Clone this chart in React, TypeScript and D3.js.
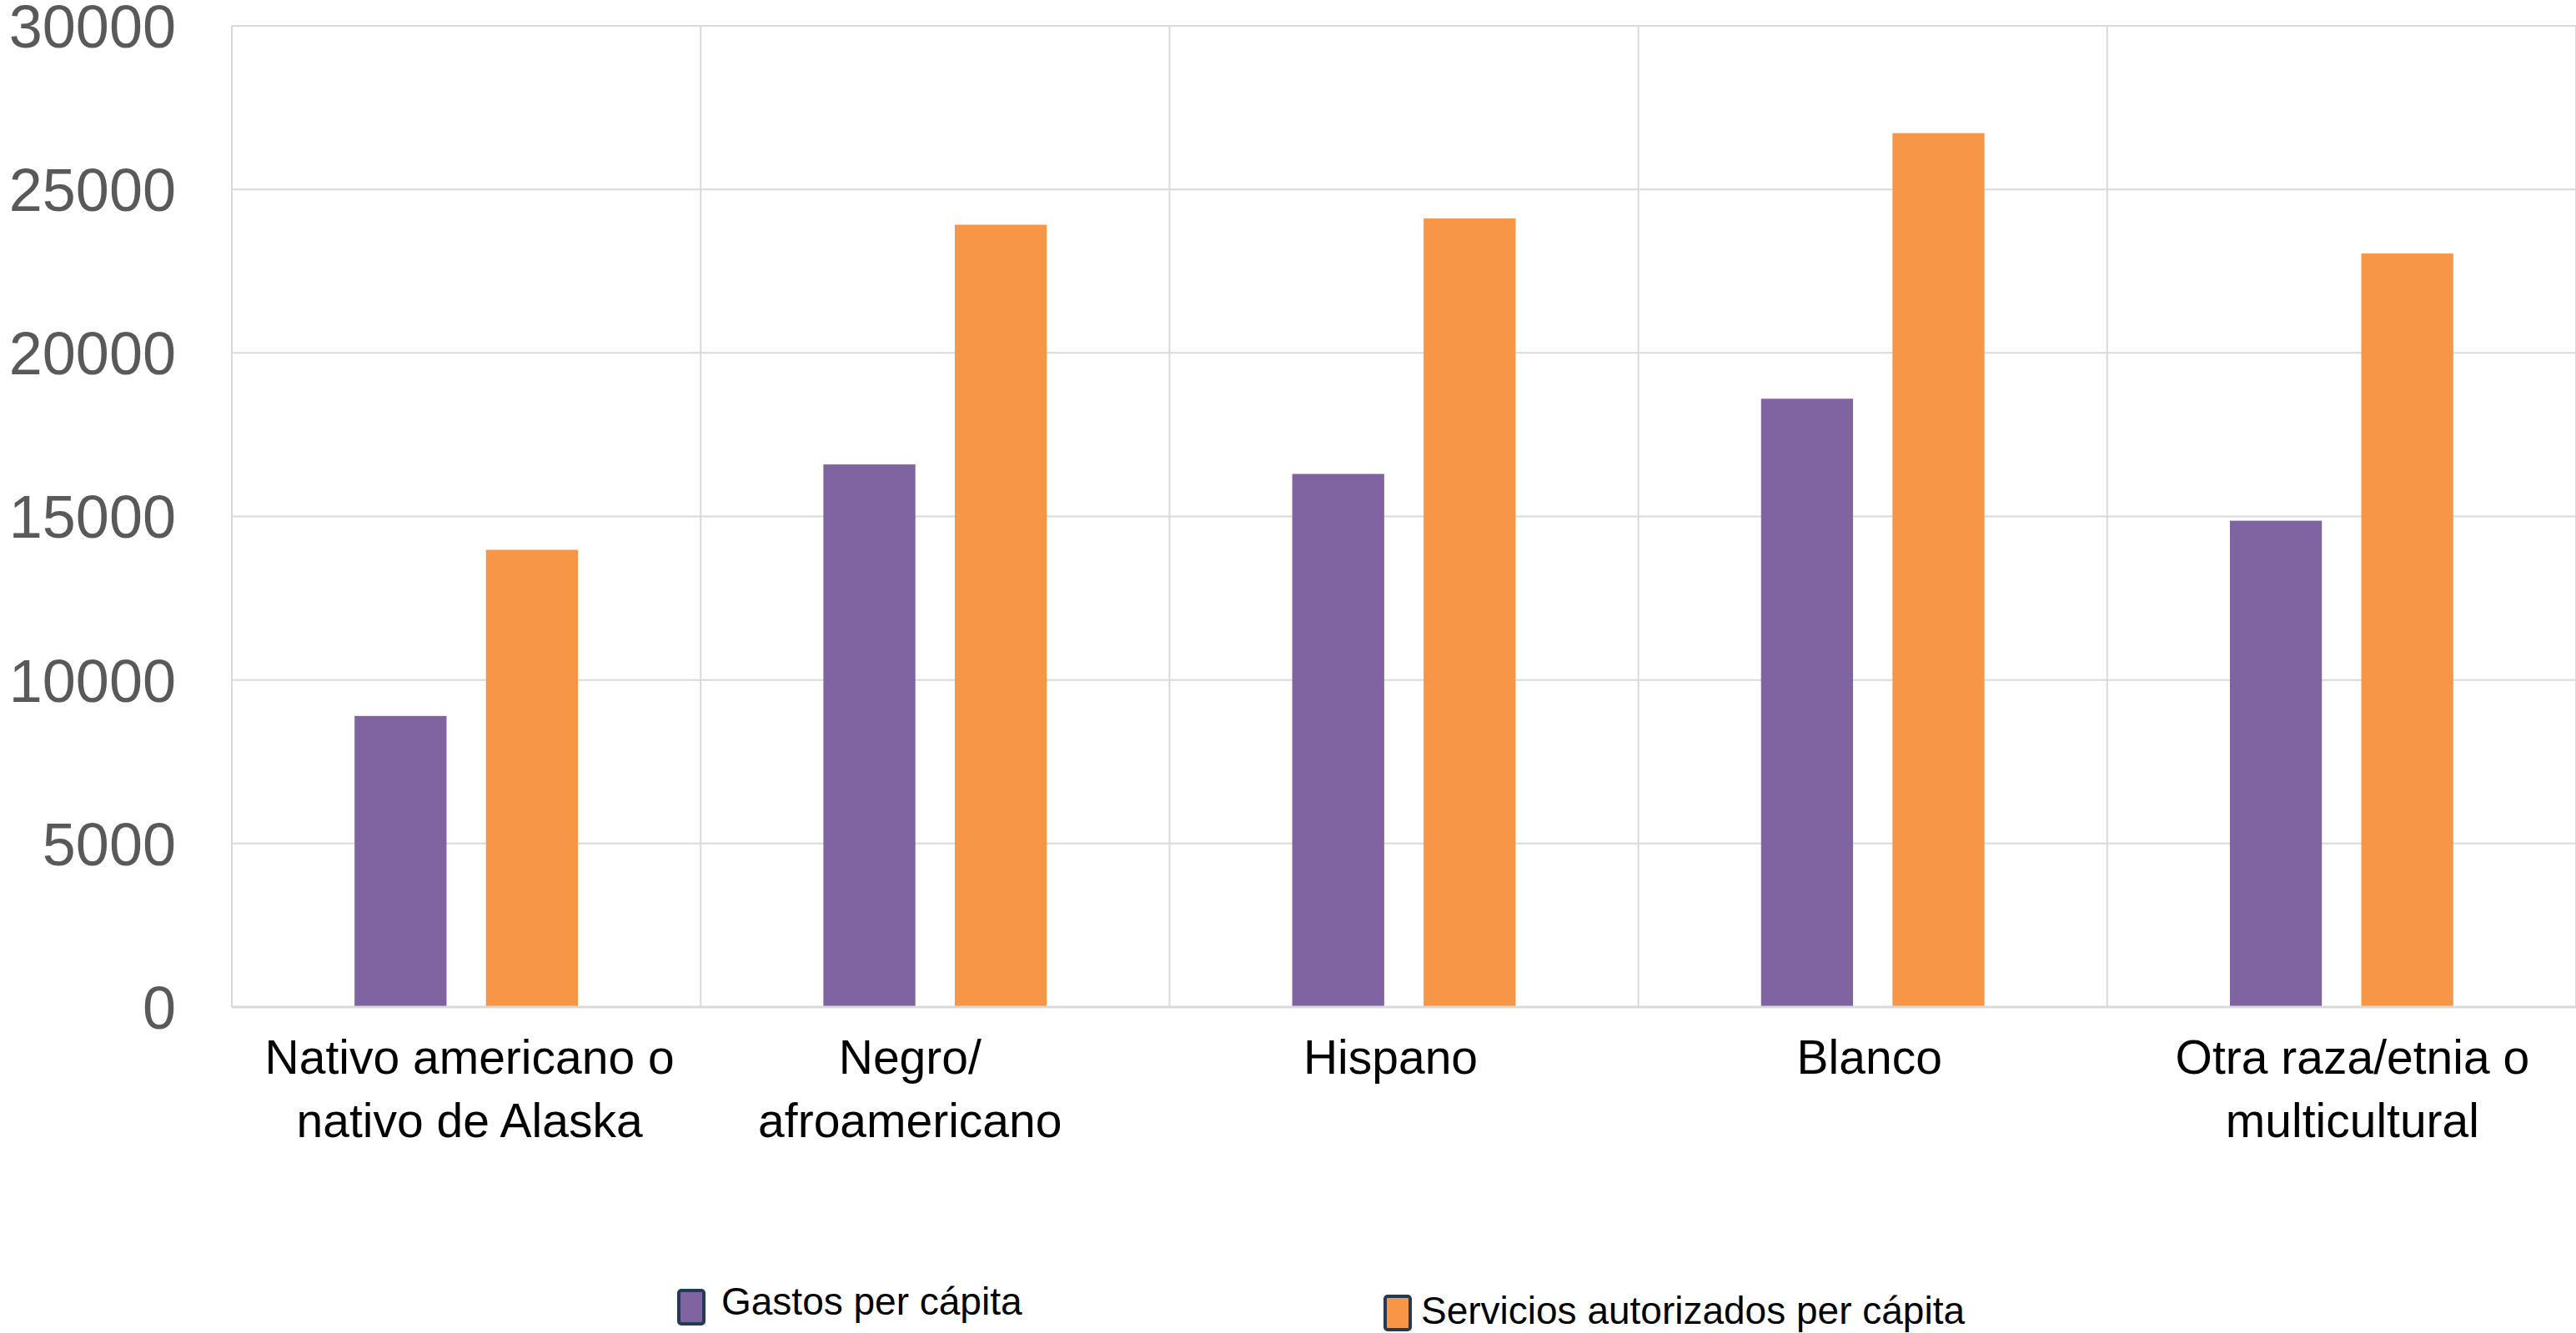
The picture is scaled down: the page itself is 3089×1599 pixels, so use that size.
import React from "react";
import * as d3 from "d3";

// Categories and per-capita values for each group
const categories: string[][] = [
  ["Nativo americano o", "nativo de Alaska"],
  ["Negro/", "afroamericano"],
  ["Hispano"],
  ["Blanco"],
  ["Otra raza/etnia o", "multicultural"],
];
const categoryKeys = ["nativo", "negro", "hispano", "blanco", "otra"];

const seriesNames = ["Gastos per cápita", "Servicios autorizados per cápita"];
const gastos = [8900, 16590, 16300, 18600, 14870];
const servicios = [13980, 23920, 24110, 26720, 23040];

const yTicks = [0, 5000, 10000, 15000, 20000, 25000, 30000];

// Presentation
const W = 3089;
const H = 1599;
const plot = { left: 278, right: 3089, top: 31, bottom: 1208 };
const colors = ["#8064a2", "#f79646"];
const gridColor = "#d9d9d9";
const labelNudge = [4, -30, -16, -4, 13];

export default function App() {
  const x0 = d3.scaleBand<string>().domain(categoryKeys).range([plot.left, plot.right]).padding(0);
  const x1 = d3
    .scaleBand<string>()
    .domain(seriesNames)
    .range([0, x0.bandwidth()])
    .paddingInner(0.3)
    .paddingOuter(0.934);
  const y = d3.scaleLinear().domain([0, 30000]).range([plot.bottom, plot.top]);

  const values = [gastos, servicios];

  const boundaries = categoryKeys.map((k) => x0(k) as number).concat([plot.right]);

  const legend = [
    { sx: 812, sy: 1546, tx: 865, ty: 1577 },
    { sx: 1659, sy: 1553, tx: 1704, ty: 1588 },
  ];

  return (
    <svg
      width={W}
      height={H}
      style={{ position: "absolute", left: 0, top: 0, background: "#fff" }}
    >
      {/* horizontal gridlines */}
      {yTicks.map((t) => (
        <line
          key={"h" + t}
          x1={plot.left}
          x2={plot.right}
          y1={y(t)}
          y2={y(t)}
          stroke={gridColor}
          strokeWidth={2}
        />
      ))}
      {/* vertical category separators */}
      {boundaries.map((bx, i) => (
        <line
          key={"v" + i}
          x1={bx}
          x2={bx}
          y1={plot.top}
          y2={plot.bottom}
          stroke={gridColor}
          strokeWidth={2}
        />
      ))}

      {/* y tick labels */}
      {yTicks.map((t) => (
        <text
          key={"yl" + t}
          x={211}
          y={y(t)}
          dy="0.36em"
          textAnchor="end"
          fontFamily="'Liberation Sans', Arial, sans-serif"
          fontSize={72}
          fill="#595959"
        >
          {t}
        </text>
      ))}

      {/* bars */}
      {categoryKeys.map((k, ci) => (
        <g key={k} transform={`translate(${x0(k)},0)`}>
          {seriesNames.map((s, si) => (
            <rect
              key={s}
              x={x1(s)}
              y={y(values[si][ci])}
              width={x1.bandwidth()}
              height={y(0) - y(values[si][ci])}
              fill={colors[si]}
            />
          ))}
        </g>
      ))}

      {/* baseline */}
      <line
        x1={plot.left}
        x2={plot.right}
        y1={y(0)}
        y2={y(0)}
        stroke={gridColor}
        strokeWidth={3}
      />

      {/* category labels */}
      {categoryKeys.map((k, ci) => (
        <text
          key={"xl" + k}
          x={(x0(k) as number) + x0.bandwidth() / 2 + labelNudge[ci]}
          y={1288}
          textAnchor="middle"
          fontFamily="'Liberation Sans', Arial, sans-serif"
          fontSize={57}
          fill="#000"
        >
          {categories[ci].map((line, li) => (
            <tspan
              key={li}
              x={(x0(k) as number) + x0.bandwidth() / 2 + labelNudge[ci]}
              dy={li === 0 ? 0 : 76}
            >
              {line}
            </tspan>
          ))}
        </text>
      ))}

      {/* legend */}
      {seriesNames.map((s, i) => (
        <g key={"lg" + s}>
          <rect
            x={legend[i].sx + 2}
            y={legend[i].sy + 2}
            width={30}
            height={40}
            rx={3}
            fill={colors[i]}
            stroke="#243a56"
            strokeWidth={4}
          />
          <text
            x={legend[i].tx}
            y={legend[i].ty}
            fontFamily="'Liberation Sans', Arial, sans-serif"
            fontSize={46}
            fill="#000"
          >
            {s}
          </text>
        </g>
      ))}
    </svg>
  );
}
